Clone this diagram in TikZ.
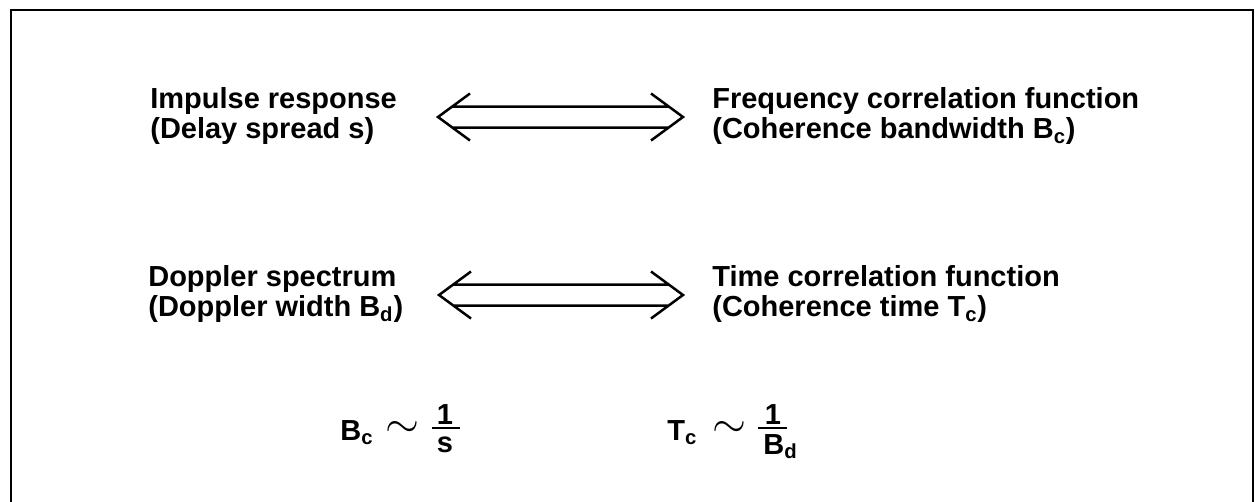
\documentclass[tikz,border=0pt]{standalone}
\usepackage{fontspec}
\setmainfont{Liberation Sans}
\usepackage{tikz}
\usetikzlibrary{
  calc,
  positioning
}
\tikzset{
  txt/.style={anchor=west, align=left, inner sep=0pt, font=\fontsize{16.5}{17.2}\selectfont\bfseries},
  term/.style={txt, anchor=base west},
  numer/.style={txt, anchor=base},
  simsign/.style={inner sep=0pt, font=\fontsize{24}{24}\selectfont},
  fracbar/.style={line width=0.04cm},
  dblarrow/.style={line width=0.05cm, to path={
    ($(\tikztostart)+(32,-23.5)$) -- (\tikztostart) -- ($(\tikztostart)+(32,23.5)$)
    ($(\tikztostart)+(14,-10.5)$) -- ($(\tikztotarget)+(-14,-10.5)$)
    ($(\tikztostart)+(14,10.5)$) -- ($(\tikztotarget)+(-14,10.5)$)
    ($(\tikztotarget)+(-32,-23.5)$) -- (\tikztotarget) -- ($(\tikztotarget)+(-32,23.5)$)
  }}
}

\begin{document}
\begin{tikzpicture}[x=0.02cm, y=-0.02cm]
  \useasboundingbox (0,0) rectangle (1255,501);
  \draw[line width=0.04cm] (11,10) rectangle (1253,540);

  \node[txt] (imp) at (150,116) {Impulse response\\(Delay spread s)};
  \node[txt] (fcf) at (712,116) {Frequency correlation function\\(Coherence bandwidth B\textsubscript{c})};
  \node[txt] (dop) at (148,294) {Doppler spectrum\\(Doppler width B\textsubscript{d})};
  \node[txt] (tcf) at (712,294) {Time correlation function\\(Coherence time T\textsubscript{c})};

  \coordinate (a1) at (438,117);
  \coordinate (b1) at (683,117);
  \coordinate (a2) at (439,295);
  \coordinate (b2) at (683,295);
  \draw[dblarrow] (a1) to (b1);
  \draw[dblarrow] (a2) to (b2);

  % B_c ~ 1/s
  \node[term] (bc) at (340,440) {B\textsubscript{c}};
  \node[simsign] (sim1) at (402,429) {$\sim$};
  \node[numer] (one1) at (445,424) {1};
  \node[numer] (den1) at (445,452) {s};
  \draw[fracbar] ($(one1.base)+(-13,4)$) -- ($(one1.base)+(15,4)$);

  % T_c ~ 1/B_d
  \node[term] (tc) at (667,440) {T\textsubscript{c}};
  \node[simsign] (sim2) at (729,429) {$\sim$};
  \node[numer] (one2) at (773,424) {1};
  \node[term] (den2) at (763,454) {B\textsubscript{d}};
  \draw[fracbar] ($(one2.base)+(-15,4)$) -- ($(one2.base)+(14,4)$);
\end{tikzpicture}
\end{document}
